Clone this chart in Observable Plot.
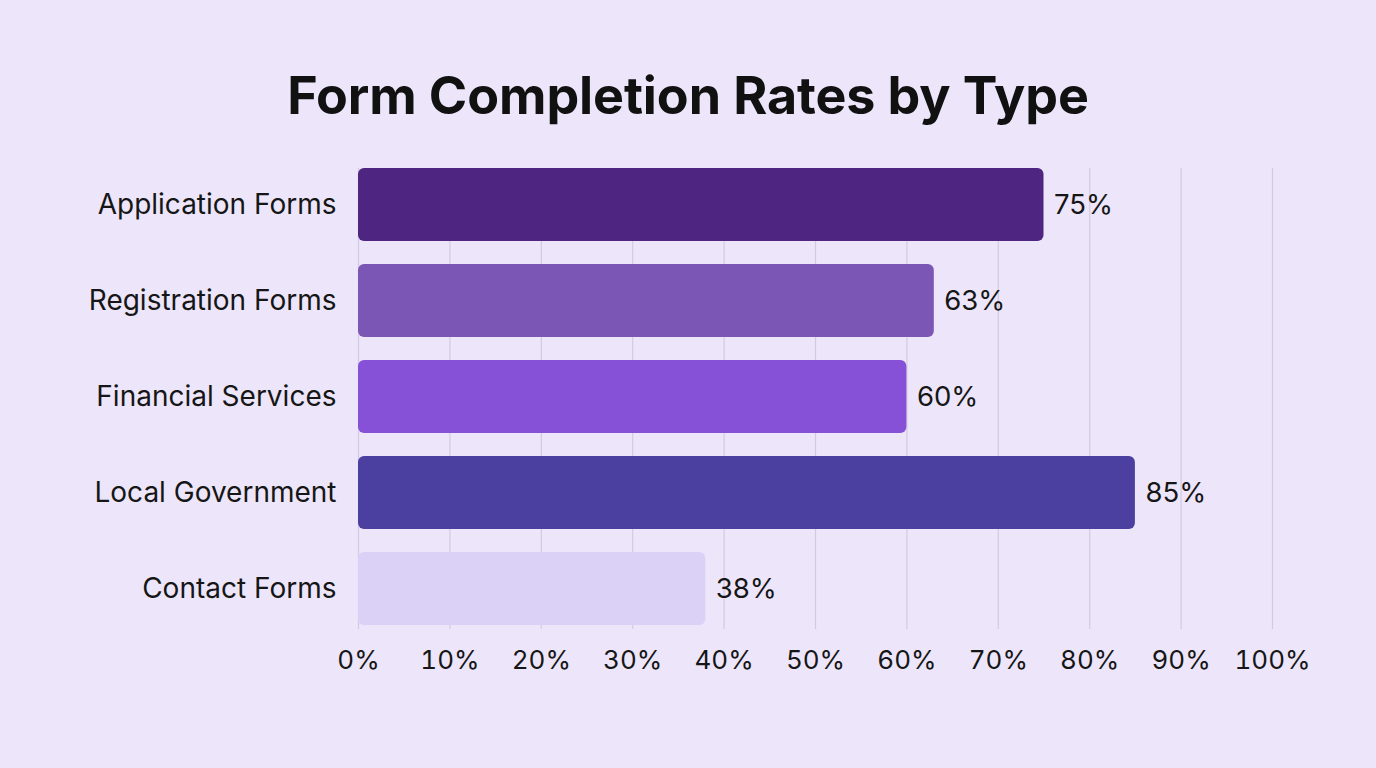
<!DOCTYPE html>
<html>
<head>
<meta charset="utf-8">
<script src="https://cdn.jsdelivr.net/npm/d3@7"></script>
<script src="https://cdn.jsdelivr.net/npm/@observablehq/plot@0.6"></script>
<style>
  html, body { margin: 0; padding: 0; background: #ede6fb; width: 1376px; height: 768px; overflow: hidden; }
  #title { margin: 0; font-family: Inter, "Noto Sans", sans-serif; font-weight: 700; font-size: 52px; color: #111; text-align: center; box-sizing: border-box; height: 140px; padding-top: 66px; line-height: 60px; letter-spacing: -0.1px; }
  #chart svg { display: block; }
</style>
</head>
<body>
<div id="title">Form Completion Rates by Type</div>
<div id="chart"></div>
<script>
const categories = ["Application Forms", "Registration Forms", "Financial Services", "Local Government", "Contact Forms"];
const values = [75, 63, 60, 85, 38];
const colors = ["#4f2582", "#7b56b5", "#8651d6", "#4b40a0", "#dbd0f6"];
const xTicks = [0, 10, 20, 30, 40, 50, 60, 70, 80, 90, 100];

const data = categories.map((c, i) => ({category: c, value: values[i], color: colors[i]}));

const chart = Plot.plot({
  width: 1376,
  height: 628,
  marginTop: 28,
  marginBottom: 139,
  marginLeft: 358,
  marginRight: 104,
  style: {background: "transparent", fontFamily: "Inter, 'Noto Sans', sans-serif", color: "#161616"},
  x: {domain: [0, 100], ticks: xTicks, tickFormat: d => d + "%", label: null, tickSize: 0, tickPadding: 21},
  y: {domain: categories, label: null, paddingInner: 0.24, paddingOuter: 0, align: 0, tickSize: 0, tickPadding: 22},
  marks: [
    Plot.ruleX(xTicks, {stroke: "#d2cae0", strokeWidth: 1.2}),
    Plot.barX(data, {y: "category", x: "value", fill: "color", rx: 6}),
    Plot.text(data, {y: "category", x: "value", text: d => d.value + "%", textAnchor: "start", dx: 10, fontSize: 27.5, fill: "#161616"}),
    Plot.axisX({ticks: xTicks, tickFormat: d => d + "%", tickSize: 0, tickPadding: 21, fontSize: 26, label: null, fill: "#161616"}),
    Plot.axisY({tickSize: 0, tickPadding: 22, fontSize: 28, label: null, fill: "#161616"})
  ]
});
document.getElementById("chart").appendChild(chart);
</script>
</body>
</html>
